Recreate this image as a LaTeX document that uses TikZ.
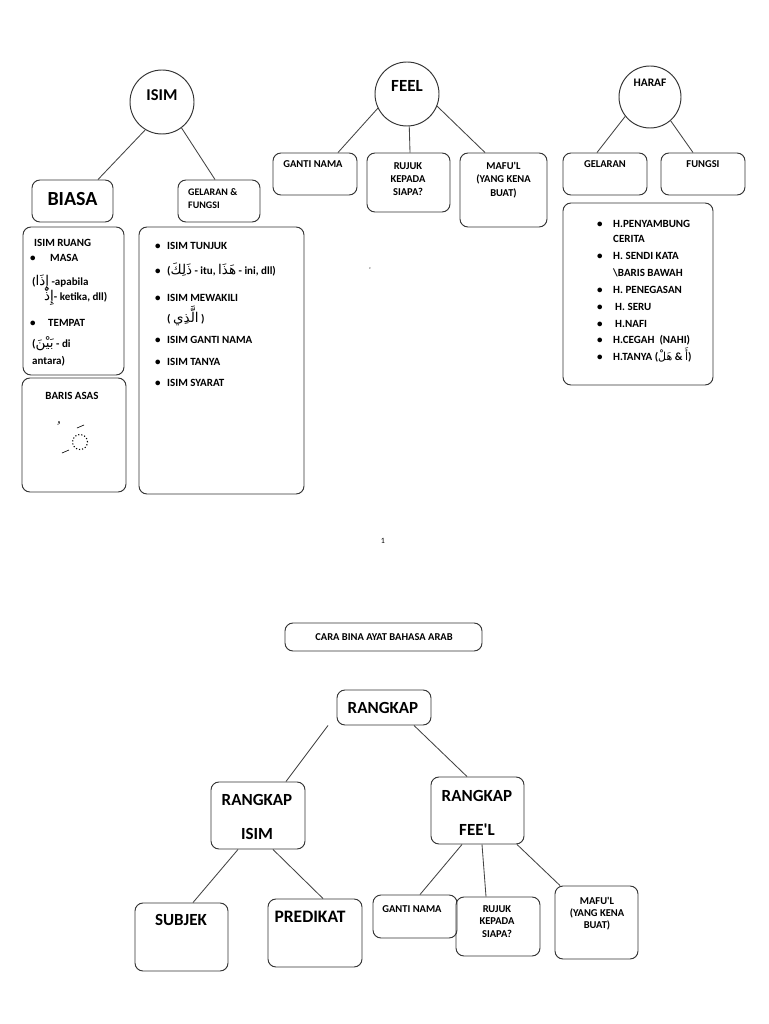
\documentclass[tikz,border=0pt]{standalone}
\usepackage{fontspec}
\setmainfont{Carlito}
\newfontfamily\arabicfont[Script=Arabic]{DejaVu Sans}
\TeXXeTstate=1
\usetikzlibrary{calc}
\definecolor{edge}{HTML}{333333}
\definecolor{conn}{HTML}{444444}
\newcommand{\ar}[1]{{\arabicfont\mdseries\fontsize{13.5}{13.5}\selectfont\beginR #1\endR}}
\newcommand{\ars}[1]{{\arabicfont\mdseries\fontsize{11}{11}\selectfont\beginR #1\endR}}
\begin{document}
\begin{tikzpicture}[x=1pt,y=-1pt,
  bx/.style 2 args={draw=edge,line width=0.95pt,rounded corners=8pt,inner sep=0pt,minimum width=#1pt,minimum height=#2pt},
  circ/.style={draw=edge,line width=0.95pt,circle,inner sep=0pt,minimum size=#1pt},
  cn/.style={draw=conn,line width=0.85pt},
  tx/.style={anchor=base west,inner sep=0pt,font=\bfseries\fontsize{#1}{#1}\selectfont},
  tc/.style={anchor=base,inner sep=0pt,font=\bfseries\fontsize{#1}{#1}\selectfont}]
\fill[white] (0,0) rectangle (768,1024);
\useasboundingbox (0,0) rectangle (768,1024);

% ---------- ISIM ----------
\node[circ=64] (isim) at (162,102) {};
\node[tc=16.5] (isimt) at (162,101) {ISIM};
\node[bx={81}{42}] (biasa) at (72.5,201) {};
\node[tc=20] (biasat) at (72.5,206) {BIASA};
\node[bx={82}{42}] (gelfung) at (219,201) {};
\node[tx=10] (gf1) at (188,196) {GELARAN \&};
\node[tx=10] (gf2) at (188,208.5) {FUNGSI};
\draw[cn] (isim.239) -- ([xshift=25.5pt]biasa.north);
\draw[cn] (isim.307) -- ([xshift=-4pt]gelfung.north);

\node[bx={101}{148}] (ruang) at (73.5,301) {};
\node[tx=11] (r1) at (34,246) {ISIM RUANG};
\node[tx=11] (r2b) at (30,261) {•};
\node[tx=11] (r2) at (50,261) {MASA};
\node[tx=11] (r3) at (32,285) {(\ar{إِذَا} -apabila};
\node[tx=11] (r4) at (44,300) {\ar{إِذْ}- ketika, dll)};
\node[tx=11] (r5b) at (30,326) {•};
\node[tx=11] (r5) at (48,326) {TEMPAT};
\node[tx=11] (r6) at (32,347) {(\ar{بَيْنَ} - di};
\node[tx=11] (r7) at (32,364) {antara)};

\node[bx={104}{114}] (baris) at (74,435) {};
\node[tc=11] (barist) at (72,399) {BARIS ASAS};
\draw[dotted,line width=1.1pt] (80,442) circle [radius=7.5pt];
\draw[line width=0.6pt] (77,428) -- (84,425);
\draw[line width=0.6pt] (62,453) -- (69,450);
\node[inner sep=0pt,font=\arabicfont\fontsize{6}{6}\selectfont] (dammah) at (59,423) {و};

\node[bx={165}{267}] (tunjuk) at (221.5,360.5) {};
\node[tx=11] (b1) at (155,249) {•};
\node[tx=11] (l1) at (167,249) {ISIM TUNJUK};
\node[tx=11] (b2) at (155,274) {•};
\node[tx=11] (l2) at (167,274) {(\ar{ذَلِكَ} - itu, \ar{هَذَا} - ini, dll)};
\node[tx=11] (b3) at (155,301) {•};
\node[tx=11] (l3) at (167,301) {ISIM MEWAKILI};
\node[tx=11] (l3b) at (167,322) {( \ar{الَّذِي} )};
\node[tx=11] (b4) at (155,343) {•};
\node[tx=11] (l4) at (167,343) {ISIM GANTI NAMA};
\node[tx=11] (b5) at (155,365) {•};
\node[tx=11] (l5) at (167,365) {ISIM TANYA};
\node[tx=11] (b6) at (155,386) {•};
\node[tx=11] (l6) at (167,386) {ISIM SYARAT};

% ---------- FEEL ----------
\node[circ=64] (feel) at (407,94) {};
\node[tc=17] (feelt) at (407,92) {FEEL};
\node[bx={84}{42}] (ganti1) at (315,174) {};
\node[tc=10.5] (g1t) at (313,168) {GANTI NAMA};
\node[bx={83}{59}] (rujuk1) at (408.5,182.5) {};
\node[tc=10.5] (rj1a) at (408,170) {RUJUK};
\node[tc=10.5] (rj1b) at (408,183) {KEPADA};
\node[tc=10.5] (rj1c) at (408,196) {SIAPA?};
\node[bx={87}{74}] (mafu1) at (503.5,190) {};
\node[tc=10.5] (mf1a) at (503.5,170) {MAFU\textquotesingle L};
\node[tc=10.5] (mf1b) at (503.5,183) {(YANG KENA};
\node[tc=10.5] (mf1c) at (503.5,197) {BUAT)};
\draw[cn] (feel.206) -- ([xshift=23pt]ganti1.north);
\draw[cn] (feel.274) -- ([xshift=1.5pt]rujuk1.north);
\draw[cn] (feel.338) -- ([xshift=-18.5pt]mafu1.north);
\node[inner sep=0pt,font=\fontsize{7}{7}\selectfont] (stray) at (370,270) {`};

% ---------- HARAF ----------
\node[circ=62] (haraf) at (650,97) {};
\node[tc=11.5] (haraft) at (650,87) {HARAF};
\node[bx={84}{42}] (gelaran) at (605,174) {};
\node[tc=10.5] (gelt) at (605,168) {GELARAN};
\node[bx={84}{42}] (fungsi) at (703,174) {};
\node[tc=10.5] (funt) at (703,168) {FUNGSI};
\draw[cn] (haraf.218) -- ([xshift=-8pt]gelaran.north);
\draw[cn] (haraf.311) -- ([xshift=-10pt]fungsi.north);

\node[bx={150}{182}] (hlist) at (638,294) {};
\node[tx=11] (hb1) at (597,227) {•};
\node[tx=11] (h1) at (613,227) {H.PENYAMBUNG};
\node[tx=11] (h1b) at (613,243) {CERITA};
\node[tx=11] (hb2) at (597,259) {•};
\node[tx=11] (h2) at (613,259) {H. SENDI KATA};
\node[tx=11] (h2b) at (613,276) {\textbackslash BARIS BAWAH};
\node[tx=11] (hb3) at (597,293) {•};
\node[tx=11] (h3) at (613,293) {H. PENEGASAN};
\node[tx=11] (hb4) at (597,310) {•};
\node[tx=11] (h4) at (615,310) {H. SERU};
\node[tx=11] (hb5) at (597,327) {•};
\node[tx=11] (h5) at (615,327) {H.NAFI};
\node[tx=11] (hb6) at (597,343) {•};
\node[tx=11] (h6) at (613,343) {H.CEGAH\ \ (NAHI)};
\node[tx=11] (hb7) at (597,360) {•};
\node[tx=11] (h7) at (613,360) {H.TANYA (\ars{هَلْ} \& \ars{أَ})};

\node[inner sep=0pt,anchor=base,font=\fontsize{8}{8}\selectfont] (pnum) at (383,543) {1};

% ---------- CARA BINA AYAT ----------
\node[bx={197}{28}] (cara) at (383.5,637) {};
\node[tc=10.5] (carat) at (384,640) {CARA BINA AYAT BAHASA ARAB};

\node[bx={94}{35}] (rangkap) at (384,707.5) {};
\node[tc=17] (rangkapt) at (383,713) {RANGKAP};
\node[bx={94}{67}] (risim) at (258,815.5) {};
\node[tc=17] (ri1) at (257,805) {RANGKAP};
\node[tc=17] (ri2) at (257,839) {ISIM};
\node[bx={93}{67}] (rfeel) at (477.5,810.5) {};
\node[tc=17] (rf1) at (477,801) {RANGKAP};
\node[tc=17] (rf2) at (477,835) {FEE\textquotesingle L};
\draw[cn] ([xshift=-56pt]rangkap.south) -- ([xshift=28pt]risim.north);
\draw[cn] ([xshift=30pt]rangkap.south) -- ([xshift=-10.5pt]rfeel.north);

\node[bx={93}{68}] (subjek) at (181.5,937) {};
\node[tc=17] (subt) at (181,925) {SUBJEK};
\node[bx={94}{68}] (predikat) at (315,933) {};
\node[tc=17.5] (predt) at (310,922) {PREDIKAT};
\draw[cn] ([xshift=-20pt]risim.south) -- ([xshift=11.5pt]subjek.north);
\draw[cn] ([xshift=15pt]risim.south) -- ([xshift=8pt]predikat.north);

\node[bx={84}{43}] (ganti2) at (415,916.5) {};
\node[tc=10.5] (g2t) at (412,912) {GANTI NAMA};
\node[bx={84}{59}] (rujuk2) at (498,926.5) {};
\node[tc=10.5] (rj2a) at (497,912) {RUJUK};
\node[tc=10.5] (rj2b) at (497,924.5) {KEPADA};
\node[tc=10.5] (rj2c) at (497,937) {SIAPA?};
\node[bx={83}{73}] (mafu2) at (596.5,922.5) {};
\node[tc=10.5] (mf2a) at (597,904) {MAFU\textquotesingle L};
\node[tc=10.5] (mf2b) at (597,916) {(YANG KENA};
\node[tc=10.5] (mf2c) at (597,928) {BUAT)};
\draw[cn] ([xshift=-15.5pt]rfeel.south) -- ([xshift=5pt]ganti2.north);
\draw[cn] ([xshift=4.5pt]rfeel.south) -- ([xshift=-12pt]rujuk2.north);
\draw[cn] ([xshift=39.5pt]rfeel.south) -- ([xshift=-36.5pt]mafu2.north);
\end{tikzpicture}
\end{document}
